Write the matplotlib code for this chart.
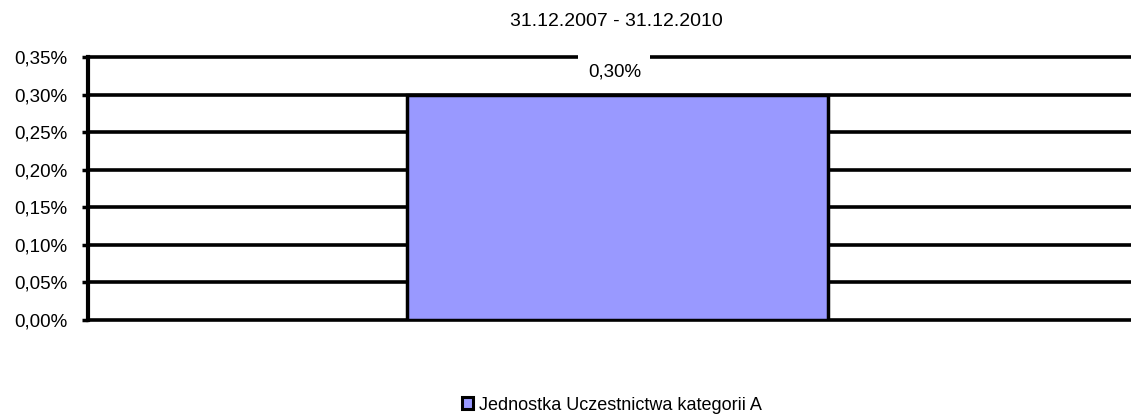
import matplotlib
matplotlib.use("Agg")
import matplotlib.pyplot as plt
from matplotlib.ticker import FuncFormatter
from matplotlib.patches import Patch

plt.rcParams['font.family'] = ['Liberation Sans', 'DejaVu Sans']

title = "31.12.2007 - 31.12.2010"
categories = ["Jednostka Uczestnictwa kategorii A"]
values = [0.30]
bar_labels = ["0,30%"]
yticks = [0.00, 0.05, 0.10, 0.15, 0.20, 0.25, 0.30, 0.35]

W, H = 1131, 417
fig = plt.figure(figsize=(W / 100, H / 100), dpi=100)
left, right, top, bottom = 88, 1147, 57, 320
ax = fig.add_axes([left / W, 1 - bottom / H, (right - left) / W, (bottom - top) / H])

ax.bar([0], values, width=0.3975, color='#9999FF', edgecolor='black', linewidth=2.5, zorder=3)
for t in yticks:
    ax.axhline(t, color='black', linewidth=2.6, zorder=2, clip_on=False)
ax.set_ylim(0, 0.35)
ax.set_xlim(-0.5, 0.5)
ax.set_yticks(yticks)
ax.yaxis.set_major_formatter(FuncFormatter(lambda v, p: f"{v:.2f}%".replace('.', ',')))
ax.tick_params(axis='y', length=4.5, width=2.5, labelsize=13.5, pad=10)
ax.set_xticks([])
for s in ['top', 'right', 'bottom']:
    ax.spines[s].set_visible(False)
ax.spines['left'].set_linewidth(3)
ax.spines['left'].set_zorder(4)

for i, (v, lab) in enumerate(zip(values, bar_labels)):
    ax.annotate(lab, (i - 0.003, v), xytext=(0, 16), textcoords='offset points',
                ha='center', va='center', fontsize=13.5,
                bbox=dict(facecolor='white', edgecolor='none', boxstyle='square,pad=0.5'),
                zorder=5, annotation_clip=False)

fig.text(616 / W, 1 - 21.5 / H, title, ha='center', va='center', fontsize=14)

handles = [Patch(facecolor='#9999FF', edgecolor='black', linewidth=2.2)]
fig.legend(handles, categories, loc='center', bbox_to_anchor=(612 / W, 1 - 405 / H), frameon=False,
           fontsize=13, handlelength=0.6, handleheight=0.6, handletextpad=0.3,
           borderpad=0, borderaxespad=0)

fig.savefig("out.png", dpi=100)
